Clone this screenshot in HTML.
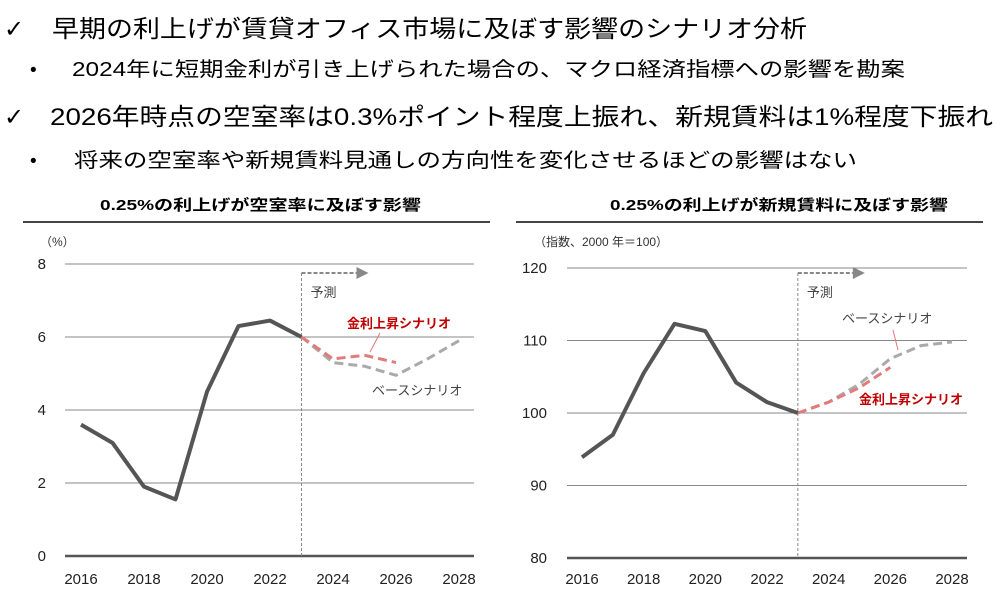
<!DOCTYPE html>
<html><head><meta charset="utf-8"><style>
html,body{margin:0;padding:0;background:#fff;}
svg{display:block;font-family:"Liberation Sans","Noto Sans CJK JP",sans-serif;}
</style></head><body>
<svg id="s" width="1003" height="592" viewBox="0 0 1003 592">
<g fill="#000">
<text x="4" y="37" font-size="24" font-weight="bold" font-family="DejaVu Sans, sans-serif">✓</text>
<text x="52" y="37" font-size="24" textLength="755" lengthAdjust="spacingAndGlyphs">早期の利上げが賃貸オフィス市場に及ぼす影響のシナリオ分析</text>
<text x="30" y="76" font-size="19">•</text>
<text x="72" y="76" font-size="20" textLength="833" lengthAdjust="spacingAndGlyphs">2024年に短期金利が引き上げられた場合の、マクロ経済指標への影響を勘案</text>
<text x="4" y="125" font-size="24" font-weight="bold" font-family="DejaVu Sans, sans-serif">✓</text>
<text x="50" y="125" font-size="24" textLength="943" lengthAdjust="spacingAndGlyphs">2026年時点の空室率は0.3%ポイント程度上振れ、新規賃料は1%程度下振れ</text>
<text x="30" y="167" font-size="19">•</text>
<text x="74" y="167" font-size="20" textLength="783" lengthAdjust="spacingAndGlyphs">将来の空室率や新規賃料見通しの方向性を変化させるほどの影響はない</text>
</g>
<g id="c1"></g>
<g id="c2"></g>
</svg>
<script>
const years = [2016,2017,2018,2019,2020,2021,2022,2023,2024,2025,2026,2027,2028];
const xTicks = [2016,2018,2020,2022,2024,2026,2028];
// Vacancy chart data
const vacHistYears = [2016,2017,2018,2019,2020,2021,2022,2023];
const vacHist = [3.6,3.1,1.9,1.55,4.5,6.3,6.45,6.0];
const vacBaseYears = [2023,2024,2025,2026,2027,2028];
const vacBase = [6.0,5.3,5.2,4.95,5.4,5.9];
const vacHikeYears = [2023,2024,2025,2026];
const vacHike = [6.0,5.4,5.5,5.3];
const vacTicks = [0,2,4,6,8];
// Rent chart data
const rentHistYears = [2016,2017,2018,2019,2020,2021,2022,2023];
const rentHist = [93.9,97,105.5,112.3,111.3,104.2,101.5,100];
const rentBaseYears = [2023,2024,2025,2026,2027,2028];
const rentBase = [100,101.5,104,107.5,109.3,109.8];
const rentHikeYears = [2023,2024,2025,2026];
const rentHike = [100,101.5,103.5,106.3];
const rentTicks = [80,90,100,110,120];

const NS='http://www.w3.org/2000/svg';
function mk(p,tag,attrs,txt){const e=document.createElementNS(NS,tag);for(const k in attrs)e.setAttribute(k,attrs[k]);if(txt!==undefined)e.textContent=txt;p.appendChild(e);return e;}

function chart(g,o){
  const xS=y=>o.x0+(y-2016)*(o.x1-o.x0)/12;
  const yS=v=>o.yb-(v-o.vmin)*(o.yb-o.yt)/(o.vmax-o.vmin);
  const t=mk(g,'text',{x:o.tx,y:210,'font-size':15,'font-weight':'bold',textLength:o.tw,lengthAdjust:'spacingAndGlyphs'},o.title);
  
  
  const r=mk(g,'line',{x1:o.rx0,x2:o.rx1,y1:222,y2:222,stroke:'#444','stroke-width':2});
  
  
  const u=mk(g,'text',{x:o.ux,y:246,'font-size':12,fill:'#333'},o.unit);
  
  
  o.ticks.forEach((v,i)=>{
    const gl=mk(g,'line',{x1:o.gx0,x2:o.gx1,y1:yS(v),y2:yS(v),stroke:i===0?'#555':'#888','stroke-width':i===0?2.5:1});
    
    
    const tl=mk(g,'text',{x:o.lx,y:yS(v)+5,'font-size':15,'text-anchor':'end',fill:'#222'},v);
    
    
  });
  xTicks.forEach(y=>{
    const tl=mk(g,'text',{x:xS(y),y:584,'font-size':15,'text-anchor':'middle',fill:'#222'},y);
    
    
  });
  const fx=xS(2023);
  const vl=mk(g,'line',{x1:fx,x2:fx,y1:273,y2:o.yb,stroke:'#888','stroke-width':1,'stroke-dasharray':'3,2'});
  
  
  const al=mk(g,'path',{d:`M${fx},273 L${fx+55},273`,fill:'none',stroke:'#888','stroke-width':2,'stroke-dasharray':'4,2'});
  
  
  const ah=mk(g,'path',{d:`M${fx+55},267 L${fx+67},273 L${fx+55},279 Z`,fill:'#888'});
  
  
  const fl=mk(g,'text',{x:fx+9,y:297,'font-size':13,fill:'#444'},'予測');
  
  
  const pts=(ys,vs)=>ys.map((y,i)=>xS(y)+','+yS(vs[i])).join(' ');
  const b=mk(g,'polyline',{points:pts(o.by,o.bv),fill:'none',stroke:'#aaa','stroke-width':3,'stroke-dasharray':'9,5'});
  
  
  const h=mk(g,'polyline',{points:pts(o.hy,o.hv),fill:'none',stroke:'#e07c7c','stroke-width':3,'stroke-dasharray':'9,5'});
  
  
  const a=mk(g,'polyline',{points:pts(o.ay,o.av),fill:'none',stroke:'#555','stroke-width':4,'stroke-linejoin':'round'});
  
  
  const hl=mk(g,'text',{x:o.hlx,y:o.hly,'font-size':13,'font-weight':'bold',fill:'#c00000'},'金利上昇シナリオ');
  
  
  const bl=mk(g,'text',{x:o.blx,y:o.bly,'font-size':13,fill:'#444'},'ベースシナリオ');
  
  
  const l1=mk(g,'line',{x1:o.l1[0],y1:o.l1[1],x2:o.l1[2],y2:o.l1[3],stroke:'#e07c7c','stroke-width':1});
  
  
}
chart(document.getElementById('c1'),{title:'0.25%の利上げが空室率に及ぼす影響',tx:100,tw:321,rx0:23,rx1:490,unit:'（%）',ux:40,
  x0:81,x1:459,yt:264,yb:556,vmin:0,vmax:8,ticks:vacTicks,gx0:65,gx1:474,lx:46,
  ay:vacHistYears,av:vacHist,by:vacBaseYears,bv:vacBase,hy:vacHikeYears,hv:vacHike,
  hlx:347,hly:328,blx:372,bly:395,l1:[380,333,370,352]});
chart(document.getElementById('c2'),{title:'0.25%の利上げが新規賃料に及ぼす影響',tx:610,tw:338,rx0:516,rx1:983,unit:'（指数、2000 年＝100）',ux:534,
  x0:582,x1:952,yt:268,yb:558,vmin:80,vmax:120,ticks:rentTicks,gx0:567,gx1:967,lx:547,
  ay:rentHistYears,av:rentHist,by:rentBaseYears,bv:rentBase,hy:rentHikeYears,hv:rentHike,
  hlx:859,hly:404,blx:842,bly:323,l1:[893,330,898,350]});
</script>
</body></html>
